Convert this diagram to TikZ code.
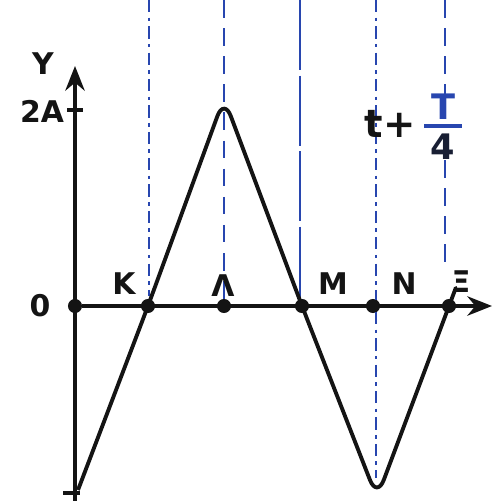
\documentclass[tikz,border=0pt]{standalone}
\usepackage{fontspec}
\setsansfont{DejaVu Sans}
\usetikzlibrary{arrows.meta}
\definecolor{pen}{RGB}{20,20,20}
\definecolor{inkblue}{RGB}{40,70,175}
\tikzset{
  axisline/.style={line width=2.4pt, draw=pen},
  wave/.style={line width=2.2pt, draw=pen, rounded corners=11pt, line join=round},
  guideA/.style={line width=1.4pt, draw=inkblue, dash pattern=on 7pt off 3pt on 2pt off 3pt},
  guideB/.style={line width=1.4pt, draw=inkblue, dash pattern=on 10pt off 6pt},
  guideC/.style={line width=1.4pt, draw=inkblue, dash pattern=on 40pt off 3pt},
  lbl/.style={font=\sffamily\bfseries\fontsize{17}{19}\selectfont, text=pen, inner sep=0pt},
  dotnode/.style={circle, fill=pen, inner sep=0pt, minimum size=8pt}
}
\begin{document}
\begin{tikzpicture}[x=0.02cm, y=-0.02cm]
\useasboundingbox (0,0) rectangle (499,501);
% axis points
\node[dotnode] (O) at (75,306) {};
\node[dotnode] (K) at (148,306) {};
\node[dotnode] (L) at (224,306) {};
\node[dotnode] (M) at (302,306) {};
\node[dotnode] (N) at (373,306) {};
\node[dotnode] (X) at (449,306) {};
\coordinate (ybot) at (75,501);
\coordinate (ytop) at (75,66);
\coordinate (xend) at (492,306);
% guides
\coordinate (Kt) at (149,0);
\coordinate (Lt) at (224,0);
\coordinate (Mt) at (300,0);
\coordinate (Nt) at (376,0);
\coordinate (Nb) at (376,478);
\coordinate (Xt) at (445,0);
\draw[guideA] (Kt) -- (149,296);
\draw[guideB] (Lt) -- (224,300);
\draw[guideC] (Mt) -- (300,300);
\draw[guideA] (Nt) -- (376,300);
\draw[guideA] (376,312) -- (Nb);
\draw[guideB] (Xt) -- (445,96);
\draw[guideB] (445,160) -- (445,266);
% axes
\draw[axisline, -{Stealth[length=14pt,width=11pt]}] (ybot) -- (ytop);
\draw[axisline, -{Stealth[length=14pt,width=11pt]}] (O) -- (xend);
\draw[axisline] (67,110) -- (83,110);
\draw[axisline] (63,493) -- (80,493);
% wave
\coordinate (w0) at (78,490);
\coordinate (peak) at (224,98);
\coordinate (trough) at (377,498);
\coordinate (wend) at (455,290);
\draw[wave] (w0) -- (K.center) -- (peak) -- (M.center) -- (trough) -- (X.center) -- (wend);
% labels
\node[lbl] (lY) at (43,64) {Y};
\node[lbl] (l2A) at (42,111) {2A};
\node[lbl] (lO) at (40,306) {0};
\node[lbl] (lK) at (124,284) {K};
\node[lbl] (lL) at (223,286) {Λ};
\node[lbl] (lM) at (333,284) {M};
\node[lbl] (lN) at (404,284) {N};
\node[lbl] (lX) at (461,282) {Ξ};
\node[lbl, font=\sffamily\bfseries\fontsize{22}{24}\selectfont] (lt) at (390,124) {t+};
\node[lbl, text=inkblue, font=\sffamily\bfseries\fontsize{20}{22}\selectfont] (lT) at (443,107) {T};
\draw[line width=2.4pt, draw=inkblue] (424,126) -- (462,126);
\node[lbl, font=\sffamily\bfseries\fontsize{20}{22}\selectfont, text=pen!80!inkblue] (l4) at (443,147) {4};
\end{tikzpicture}
\end{document}
